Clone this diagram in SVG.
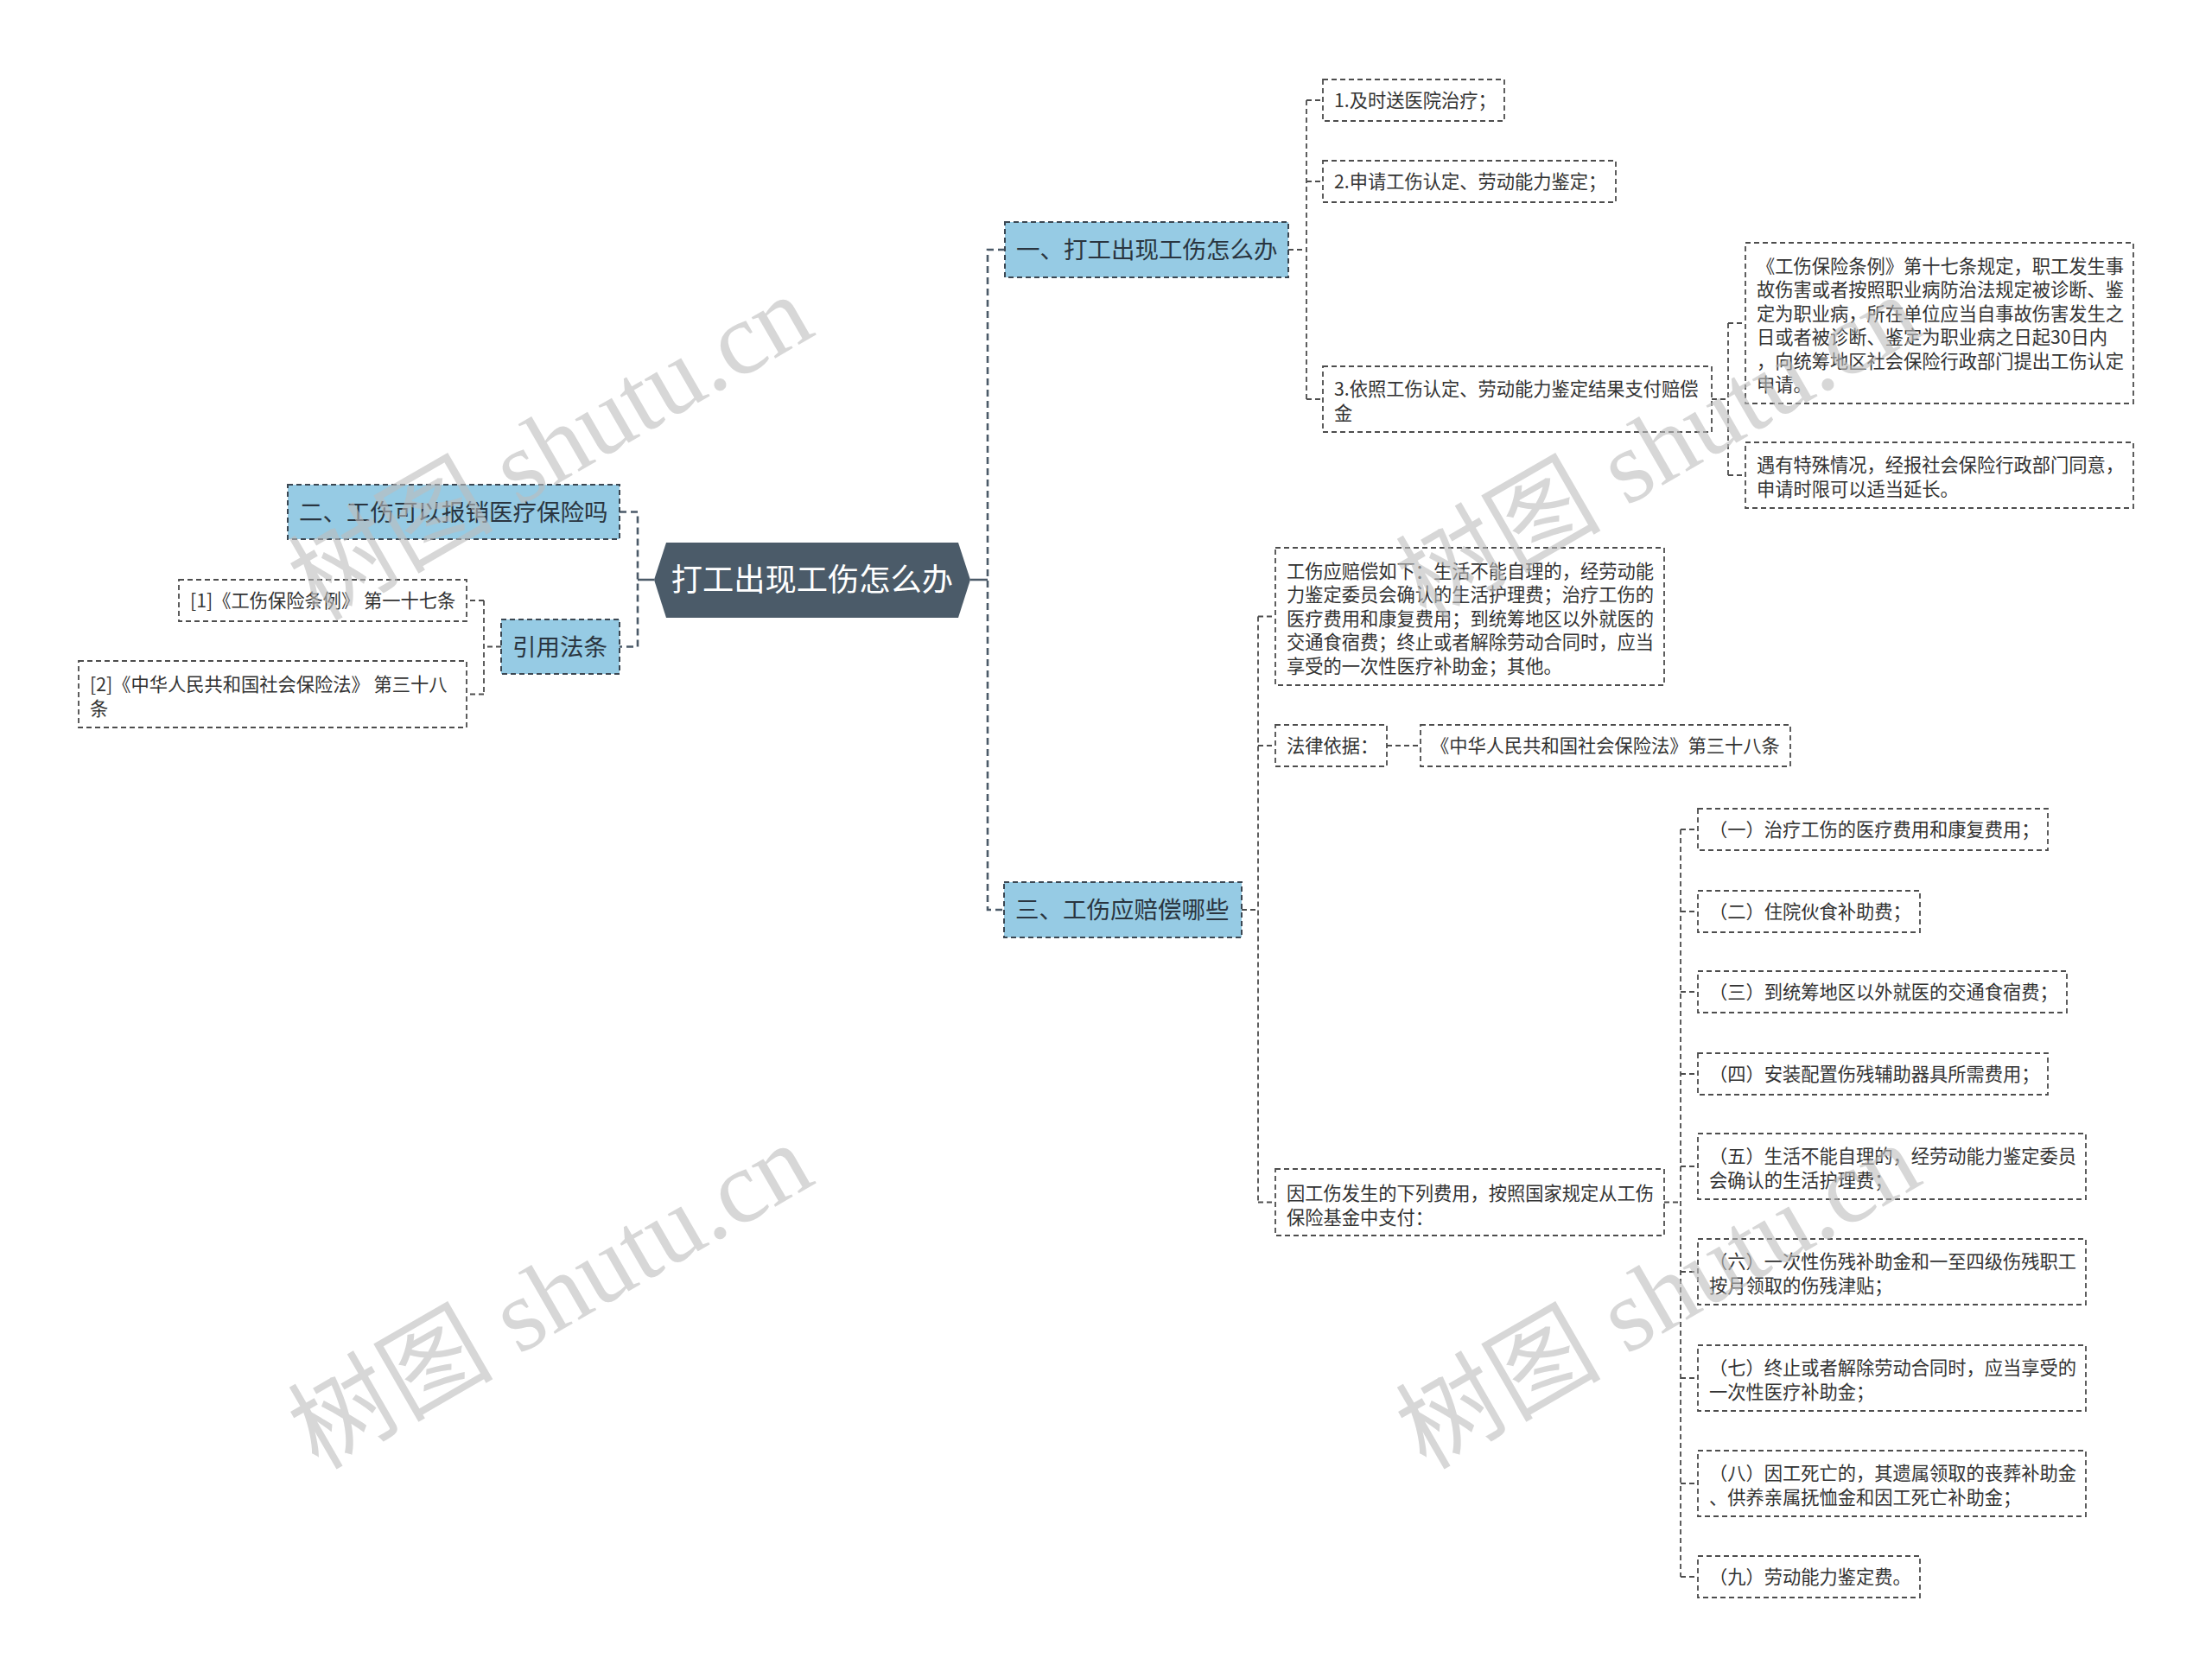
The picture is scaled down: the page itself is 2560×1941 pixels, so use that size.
<svg xmlns="http://www.w3.org/2000/svg" width="2560" height="1941" viewBox="0 0 2560 1941">
<style>
text{font-family:"Noto Sans CJK SC","Liberation Sans",sans-serif;}
.root{fill:#4b5b69;}
.roott{fill:#ffffff;font-size:36.25px;}
.l1{fill:#96cbe4;stroke:#3b4752;stroke-width:2;stroke-dasharray:6 4;}
.l1t{fill:#2a3540;font-size:27.5px;}
.l2{fill:none;stroke:#4d4d4d;stroke-width:1.8;stroke-dasharray:6 4;}
.l2t{fill:#333;font-size:21.25px;}
.c1{fill:none;stroke:#4b5a68;stroke-width:2.6;stroke-dasharray:8 5;}
.c1s{fill:none;stroke:#4b5a68;stroke-width:2.6;}
.c2{fill:none;stroke:#4d4d4d;stroke-width:1.8;stroke-dasharray:6 4;}
.wm{font-family:"Liberation Serif","Noto Sans CJK SC",serif;font-size:119px;fill:#bdbdbd;opacity:0.6;}
</style>
<rect width="2560" height="1941" fill="#ffffff"/>
<g id="connectors">
<path class="c1s" d="M738,671 H757 M1123,671 H1143"/>
<path class="c1" d="M717,592.5 H738 V748.5 H717"/>
<path class="c1" d="M1163,289 H1143 V1053 H1162"/>
<path class="c2" d="M1491,289 H1512 M1512,116 V462 M1512,116 H1531 M1512,210 H1531 M1512,462 H1531"/>
<path class="c2" d="M1981,462 H2000 M2000,374 V550 M2000,374 H2020 M2000,550 H2020"/>
<path class="c2" d="M580,748.5 H560 M560,695 V803.5 M560,695 H540 M560,803.5 H540"/>
<path class="c2" d="M1437,1053 H1456 M1456,713.5 V1391.5 M1456,713.5 H1476 M1456,863 H1476 M1456,1391.5 H1476"/>
<path class="c2" d="M1605,863 H1644"/>
<path class="c2" d="M1926,1391.5 H1945 M1945,960 V1825 M1945,960 H1965 M1945,1055 H1965 M1945,1148 H1965 M1945,1243 H1965 M1945,1350 H1965 M1945,1472 H1965 M1945,1595 H1965 M1945,1717 H1965 M1945,1825 H1965"/>
</g>
<g id="root">
<polygon class="root" points="757,671 771,628 1109,628 1123,671 1109,715 771,715"/>
<text class="roott" x="940" y="684" text-anchor="middle">打工出现工伤怎么办</text>
</g>
<g id="n-yi">
<rect class="l1" x="1163" y="257" width="328" height="64"/>
<text class="l1t" x="1176" y="299">一、打工出现工伤怎么办</text>
</g>
<g id="n-er">
<rect class="l1" x="333" y="561" width="384" height="63"/>
<text class="l1t" x="346" y="603">二、工伤可以报销医疗保险吗</text>
</g>
<g id="n-yinyong">
<rect class="l1" x="580" y="717" width="137" height="63"/>
<text class="l1t" x="593" y="759">引用法条</text>
</g>
<g id="n-san">
<rect class="l1" x="1162" y="1021" width="275" height="64"/>
<text class="l1t" x="1175" y="1063">三、工伤应赔偿哪些</text>
</g>
<g id="n1">
<rect class="l2" x="1531" y="92" width="210" height="48"/>
<text class="l2t" x="1544" y="124">1.及时送医院治疗；</text>
</g>
<g id="n2">
<rect class="l2" x="1531" y="186" width="339" height="48"/>
<text class="l2t" x="1544" y="218">2.申请工伤认定、劳动能力鉴定；</text>
</g>
<g id="n3">
<rect class="l2" x="1531" y="424" width="450" height="76"/>
<text class="l2t" x="1544" y="458">3.依照工伤认定、劳动能力鉴定结果支付赔偿</text>
<text class="l2t" x="1544" y="485.5">金</text>
</g>
<g id="n3a">
<rect class="l2" x="2020" y="281" width="449" height="186"/>
<text class="l2t" x="2033" y="315.5">《工伤保险条例》第十七条规定，职工发生事</text>
<text class="l2t" x="2033" y="343">故伤害或者按照职业病防治法规定被诊断、鉴</text>
<text class="l2t" x="2033" y="370.5">定为职业病，所在单位应当自事故伤害发生之</text>
<text class="l2t" x="2033" y="398">日或者被诊断、鉴定为职业病之日起30日内</text>
<text class="l2t" x="2033" y="425.5">，向统筹地区社会保险行政部门提出工伤认定</text>
<text class="l2t" x="2033" y="453">申请。</text>
</g>
<g id="n3b">
<rect class="l2" x="2020" y="512" width="449" height="76"/>
<text class="l2t" x="2033" y="546">遇有特殊情况，经报社会保险行政部门同意，</text>
<text class="l2t" x="2033" y="573.5">申请时限可以适当延长。</text>
</g>
<g id="ref1">
<rect class="l2" x="207" y="671" width="333" height="48"/>
<text class="l2t" x="220" y="703">[1]《工伤保险条例》 第一十七条</text>
</g>
<g id="ref2">
<rect class="l2" x="91" y="765" width="449" height="77"/>
<text class="l2t" x="104" y="800">[2]《中华人民共和国社会保险法》 第三十八</text>
<text class="l2t" x="104" y="827.5">条</text>
</g>
<g id="s1">
<rect class="l2" x="1476" y="634" width="450" height="159"/>
<text class="l2t" x="1489" y="668.5">工伤应赔偿如下：生活不能自理的，经劳动能</text>
<text class="l2t" x="1489" y="696">力鉴定委员会确认的生活护理费；治疗工伤的</text>
<text class="l2t" x="1489" y="723.5">医疗费用和康复费用；到统筹地区以外就医的</text>
<text class="l2t" x="1489" y="751">交通食宿费；终止或者解除劳动合同时，应当</text>
<text class="l2t" x="1489" y="778.5">享受的一次性医疗补助金；其他。</text>
</g>
<g id="s2">
<rect class="l2" x="1476" y="839" width="129" height="48"/>
<text class="l2t" x="1489" y="871">法律依据：</text>
</g>
<g id="s2a">
<rect class="l2" x="1644" y="839" width="428" height="48"/>
<text class="l2t" x="1656" y="871">《中华人民共和国社会保险法》第三十八条</text>
</g>
<g id="s3">
<rect class="l2" x="1476" y="1353" width="450" height="77"/>
<text class="l2t" x="1489" y="1389">因工伤发生的下列费用，按照国家规定从工伤</text>
<text class="l2t" x="1489" y="1416.5">保险基金中支付：</text>
</g>
<g id="f1">
<rect class="l2" x="1965" y="936" width="405" height="48"/>
<text class="l2t" x="1978" y="968">（一）治疗工伤的医疗费用和康复费用；</text>
</g>
<g id="f2">
<rect class="l2" x="1965" y="1031" width="257" height="48"/>
<text class="l2t" x="1978" y="1063">（二）住院伙食补助费；</text>
</g>
<g id="f3">
<rect class="l2" x="1965" y="1124" width="427" height="48"/>
<text class="l2t" x="1978" y="1156">（三）到统筹地区以外就医的交通食宿费；</text>
</g>
<g id="f4">
<rect class="l2" x="1965" y="1219" width="405" height="48"/>
<text class="l2t" x="1978" y="1251">（四）安装配置伤残辅助器具所需费用；</text>
</g>
<g id="f5">
<rect class="l2" x="1965" y="1312" width="449" height="76"/>
<text class="l2t" x="1978" y="1346">（五）生活不能自理的，经劳动能力鉴定委员</text>
<text class="l2t" x="1978" y="1373.5">会确认的生活护理费；</text>
</g>
<g id="f6">
<rect class="l2" x="1965" y="1434" width="449" height="76"/>
<text class="l2t" x="1978" y="1468">（六）一次性伤残补助金和一至四级伤残职工</text>
<text class="l2t" x="1978" y="1495.5">按月领取的伤残津贴；</text>
</g>
<g id="f7">
<rect class="l2" x="1965" y="1557" width="449" height="76"/>
<text class="l2t" x="1978" y="1591">（七）终止或者解除劳动合同时，应当享受的</text>
<text class="l2t" x="1978" y="1618.5">一次性医疗补助金；</text>
</g>
<g id="f8">
<rect class="l2" x="1965" y="1679" width="449" height="76"/>
<text class="l2t" x="1978" y="1713">（八）因工死亡的，其遗属领取的丧葬补助金</text>
<text class="l2t" x="1978" y="1740.5">、供养亲属抚恤金和因工死亡补助金；</text>
</g>
<g id="f9">
<rect class="l2" x="1965" y="1801" width="257" height="48"/>
<text class="l2t" x="1978" y="1833">（九）劳动能力鉴定费。</text>
</g>
<g id="watermarks">
<text class="wm" transform="translate(368,720) rotate(-30)">树图 shutu.cn</text>
<text class="wm" transform="translate(1650,720) rotate(-30)">树图 shutu.cn</text>
<text class="wm" transform="translate(368,1702) rotate(-30)">树图 shutu.cn</text>
<text class="wm" transform="translate(1650,1702) rotate(-30)">树图 shutu.cn</text>
</g>
</svg>
